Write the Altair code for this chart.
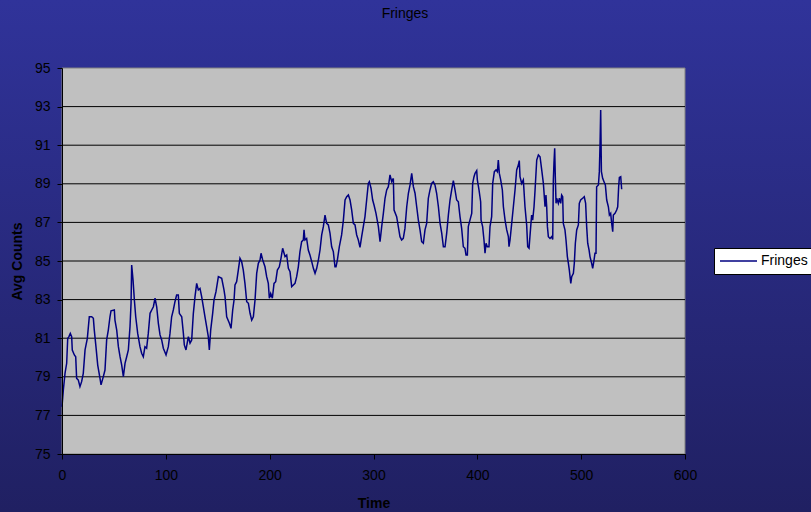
import altair as alt
import pandas as pd

# Fringe counts, read in consecutive stretches of the run
time_a = [0, 1.3, 2.9, 4.5, 5.5, 6.7, 8.0, 9.3, 9.9, 11.9, 13.2, 14.1, 15.7, 17.3, 18.9,
          20.5, 22.2, 24.4, 26.3, 28.6, 30.2, 31.1, 32.7, 34.4, 36.6, 37.6, 39.8, 41.4,
          43.0, 44.6, 46.2, 47.2, 50.4, 51.0, 52.7, 54.3, 55.9, 57.5, 59.1, 60.7, 62.3,
          63.9, 65.5, 66.5, 67.1, 68.4, 69.7, 71.0, 72.9, 75.1]
count_a = [77.45, 78.32, 79.18, 79.70, 80.99, 81.08, 81.25, 81.08, 80.39, 80.13, 80.04,
           78.92, 78.83, 78.49, 78.75, 79.18, 80.39, 80.99, 82.11, 82.11, 82.03, 81.42,
           80.56, 79.61, 78.92, 78.58, 79.01, 79.35, 80.91, 81.42, 82.11, 82.42, 82.46,
           81.94, 81.42, 80.56, 80.04, 79.61, 79.01, 79.70, 80.04, 80.39, 81.60, 82.81,
           84.79, 84.02, 82.98, 82.11, 81.25, 80.56]

time_b = [76.7, 78.3, 79.9, 81.5, 83.1, 84.8, 86.4, 88.0, 89.6, 91.2, 92.8, 94.4, 96.0,
          97.6, 100.2, 102.4, 104.0, 105.6, 107.2, 108.8, 110.4, 112.0, 113.0, 115.3,
          116.9, 117.8, 119.4, 121.7, 123.3, 124.9, 126.5, 128.1, 129.7, 131.3, 132.9,
          134.5, 136.1, 137.7, 139.3, 140.9, 141.9, 143.2, 145.1, 146.4, 148.3, 150.6, 153.8]
count_b = [80.22, 80.04, 80.56, 80.48, 81.25, 82.29, 82.46, 82.63, 83.07, 82.63, 81.77,
           81.17, 80.91, 80.48, 80.13, 80.56, 81.25, 82.11, 82.46, 82.89, 83.24, 83.24,
           82.29, 82.11, 81.25, 80.65, 80.39, 81.08, 80.74, 80.91, 82.29, 83.15, 83.84,
           83.50, 83.58, 83.15, 82.63, 82.11, 81.60, 81.08, 80.39, 81.42, 82.29, 82.98,
           83.41, 84.19, 84.10]

time_c = [155.3, 156.0, 157.0, 158.6, 161.2, 162.8, 164.4, 165.7, 166.6, 168.2, 169.8,
          171.4, 173.0, 174.6, 176.2, 177.9, 179.5, 181.1, 182.7, 184.3, 185.9, 187.5,
          189.1, 190.7, 191.7, 193.3, 195.5, 197.1, 198.7, 199.7, 201.0, 202.6, 204.2,
          205.8, 207.4, 209.3, 210.9, 212.5, 214.8, 216.4, 218.0, 219.6, 221.2, 222.8,
          224.4, 226.0, 227.6, 229.2, 230.8, 232.4, 233.1]
count_c = [83.70, 83.50, 83.15, 82.11, 81.77, 81.51, 82.46, 82.98, 83.76, 83.93, 84.53,
           85.14, 84.97, 84.53, 83.84, 82.89, 82.81, 82.29, 81.94, 82.11, 82.98, 84.36,
           84.88, 85.05, 85.40, 85.05, 84.70, 84.19, 83.84, 83.07, 83.32, 83.07, 83.84,
           83.93, 84.53, 84.70, 85.14, 85.66, 85.23, 85.31, 84.62, 84.45, 83.67, 83.76,
           83.84, 84.19, 84.70, 85.49, 86.00, 86.09, 86.61]

time_d = [234.0, 235.6, 237.2, 238.8, 240.5, 242.1, 243.7, 245.3, 246.9, 248.5, 250.1,
          251.7, 253.3, 254.9, 256.5, 258.1, 259.7, 261.3, 262.9, 263.9, 265.2, 267.1,
          269.3, 271.0, 272.6, 274.2, 275.8, 277.4, 279.0, 280.6, 282.2, 283.8, 285.4,
          287.0, 288.6, 290.2, 291.8, 293.4, 295.0, 296.0, 297.6, 299.2, 300.5, 302.4,
          304.7, 306.3, 307.9, 309.5]
count_d = [86.09, 86.17, 85.57, 85.31, 84.97, 84.62, 84.36, 84.62, 85.05, 85.57, 86.35,
           86.78, 87.38, 86.95, 86.87, 86.44, 85.74, 85.49, 84.70, 84.70, 85.05, 85.74,
           86.35, 87.12, 88.16, 88.33, 88.42, 88.16, 87.64, 86.95, 86.87, 86.35, 86.09,
           85.71, 86.26, 86.78, 87.30, 88.16, 89.02, 89.11, 88.77, 88.16, 87.90, 87.47,
           86.78, 86.00, 86.78, 87.47]

time_e = [311.1, 312.7, 314.3, 315.9, 317.5, 319.1, 319.8, 322.3, 323.9, 325.5, 327.1,
          328.7, 330.3, 332.0, 333.6, 335.2, 336.8, 338.4, 340.0, 341.6, 343.2, 344.8,
          346.4, 348.0, 349.6, 351.2, 352.8, 354.4, 356.0, 357.6, 359.2, 360.8, 362.5,
          364.1, 365.7, 367.3, 368.9, 370.5, 372.1, 373.7, 375.3, 376.9, 378.5, 380.1,
          381.7, 383.3, 384.9, 386.5, 388.1]
count_e = [88.25, 88.68, 88.85, 89.46, 89.11, 89.28, 87.64, 87.30, 86.78, 86.26, 86.09,
           86.17, 86.69, 87.81, 88.51, 88.94, 89.54, 88.85, 88.51, 87.81, 87.12, 86.61,
           86.00, 85.92, 86.61, 86.95, 88.25, 88.68, 89.02, 89.11, 88.94, 88.51, 87.81,
           86.95, 86.44, 85.74, 85.74, 86.44, 87.38, 88.16, 88.68, 89.16, 88.68, 88.16,
           88.07, 87.30, 86.69, 85.74, 85.66]

time_f = [389.1, 390.4, 391.3, 392.9, 394.6, 395.5, 396.8, 397.8, 399.4, 400.0, 401.6,
          403.2, 403.6, 405.1, 406.4, 407.4, 408.4, 409.6, 411.2, 412.2, 413.8, 414.8,
          416.4, 418.0, 419.3, 420.2, 421.2, 422.5, 424.1, 425.1, 426.7, 428.3, 429.9,
          430.5, 431.5, 433.1, 434.7, 436.3, 437.9, 439.5, 440.4, 441.1, 442.7, 444.3,
          445.9, 447.5, 448.5, 449.8, 451.4, 452.3, 453.3, 454.6, 455.6, 457.2, 458.8,
          460.4, 462.0, 463.6, 465.2]
count_f = [85.31, 85.31, 86.78, 87.12, 87.47, 89.02, 89.37, 89.54, 89.68, 89.20, 88.68,
           88.07, 87.12, 86.78, 86.09, 85.40, 85.92, 85.74, 85.74, 86.78, 87.30, 89.02,
           89.63, 89.72, 89.63, 90.23, 89.54, 89.20, 88.68, 87.81, 87.12, 86.61, 86.26,
           85.74, 86.09, 86.95, 87.81, 88.68, 89.72, 89.97, 90.20, 89.37, 89.02, 89.20,
           87.81, 86.87, 85.74, 85.66, 86.78, 87.38, 87.12, 87.81, 88.68, 90.23, 90.49,
           90.40, 89.72, 89.02, 87.81]

time_g = [466.1, 466.8, 467.5, 468.4, 470.0, 471.6, 472.6, 473.2, 473.8, 474.5, 475.1,
          475.8, 476.4, 478.0, 479.0, 480.3, 481.2, 482.2, 482.8, 484.4, 485.4, 486.7,
          487.7, 488.6, 490.0, 490.9, 492.5, 493.4, 494.4, 495.7, 497.3, 498.2, 499.5,
          501.4, 503.0, 504.3, 505.3, 506.3, 507.6, 508.5, 510.1, 511.1, 512.4, 513.3,
          514.3, 514.9, 516.6, 517.5, 518.2, 518.8, 519.5, 520.7, 522.0, 523.3, 524.6,
          526.2, 527.2, 528.4, 529.4, 530.4, 531.0, 532.6, 534.2, 535.2, 536.1, 536.8,
          538.1, 539.0]
count_g = [88.42, 87.81, 86.78, 86.26, 86.17, 86.26, 86.12, 89.20, 90.06, 90.84, 89.37,
           87.99, 88.25, 87.99, 88.25, 87.99, 88.42, 88.33, 86.95, 86.61, 86.09, 85.23,
           84.88, 84.53, 83.84, 84.19, 84.36, 84.88, 85.92, 86.61, 86.87, 87.99, 88.16,
           88.25, 88.33, 87.99, 86.78, 85.92, 85.57, 85.23, 84.88, 84.62, 85.05, 85.40,
           85.40, 88.85, 88.94, 89.63, 91.10, 92.82, 89.63, 89.28, 89.11, 88.94, 88.16,
           87.81, 87.38, 87.47, 86.95, 86.52, 87.38, 87.47, 87.64, 87.81, 88.85, 89.33,
           89.37, 88.72]

x_ticks = [0, 100, 200, 300, 400, 500, 600]
y_ticks = [75, 77, 79, 81, 83, 85, 87, 89, 91, 93, 95]
grid_levels = [77, 79, 81, 83, 85, 87, 89, 91, 93]
series_name = "Fringes"

times = time_a + time_b + time_c + time_d + time_e + time_f + time_g
counts = count_a + count_b + count_c + count_d + count_e + count_f + count_g
df = pd.DataFrame({"Time": times, "Avg Counts": counts, "series": series_name})

W, H = 623, 386
FONT = "Liberation Sans"
x_scale = alt.Scale(domain=[0, 600], nice=False)
y_scale = alt.Scale(domain=[75, 95], nice=False, zero=False)
one = pd.DataFrame({"k": [0]})

y_axis = alt.Axis(values=y_ticks, title="Avg Counts", titleX=-45, titleY=193,
                  titleAngle=270, titleAlign="center", titleBaseline="middle",
                  labelPadding=7, tickSize=5, zindex=1)
x_axis = alt.Axis(values=x_ticks, title="Time", titleY=49, titleBaseline="middle",
                  labelPadding=9, tickSize=5, labelFlush=False, zindex=1)

# Full-canvas blue gradient backdrop
backdrop = alt.Chart(one).mark_rect(
    fill=alt.LinearGradient(
        gradient="linear",
        stops=[alt.GradientStop(color="#30339A", offset=0),
               alt.GradientStop(color="#202062", offset=1)],
        x1=0, x2=0, y1=0, y2=1,
    )
).encode(x=alt.value(-62), x2=alt.value(749), y=alt.value(-68), y2=alt.value(444))

# Grey plot area
plot_area = alt.Chart(one).mark_rect(fill="#C0C0C0", stroke="#808080", strokeWidth=1).encode(
    x=alt.value(0), x2=alt.value(W), y=alt.value(0), y2=alt.value(H)
)

# Horizontal gridlines at every 2 counts
grid = alt.Chart(pd.DataFrame({"g": grid_levels})).mark_rule(color="#000000", strokeWidth=1).encode(
    y=alt.Y("g:Q", scale=y_scale, axis=y_axis)
)

line = alt.Chart(df).mark_line(strokeWidth=1.5, interpolate="linear").encode(
    x=alt.X("Time:Q", scale=x_scale, axis=x_axis),
    y=alt.Y("Avg Counts:Q", scale=y_scale, axis=y_axis),
    color=alt.Color("series:N", scale=alt.Scale(range=["#000080"]),
                    legend=alt.Legend(title=None, orient="none", legendX=652, legendY=180,
                                      fillColor="#FFFFFF", strokeColor="#000000",
                                      padding=5, clipHeight=16, symbolType="stroke",
                                      symbolSize=1369, symbolStrokeWidth=1.5,
                                      labelFontSize=14, labelFont=FONT,
                                      labelColor="#000000", labelOffset=3)),
)

title = alt.Chart(one).mark_text(font=FONT, fontSize=14, color="#000000",
                                 align="center", baseline="middle").encode(
    x=alt.value(343), y=alt.value(-54), text=alt.value("Fringes")
)

chart = alt.layer(backdrop, plot_area, grid, line, title).properties(
    width=W, height=H,
    autosize=alt.AutoSizeParams(type="none"),
    padding={"left": 62, "top": 68, "right": 126, "bottom": 58},
    background="#282878",
).configure_view(stroke=None).configure_axis(
    labelFont=FONT, labelFontSize=14, labelColor="#000000",
    titleFont=FONT, titleFontSize=14, titleFontWeight="bold", titleColor="#000000",
    domainColor="#000000", tickColor="#000000", grid=False, domainWidth=1,
)

chart.save("out.html", embed_options={"renderer": "svg", "actions": False})
